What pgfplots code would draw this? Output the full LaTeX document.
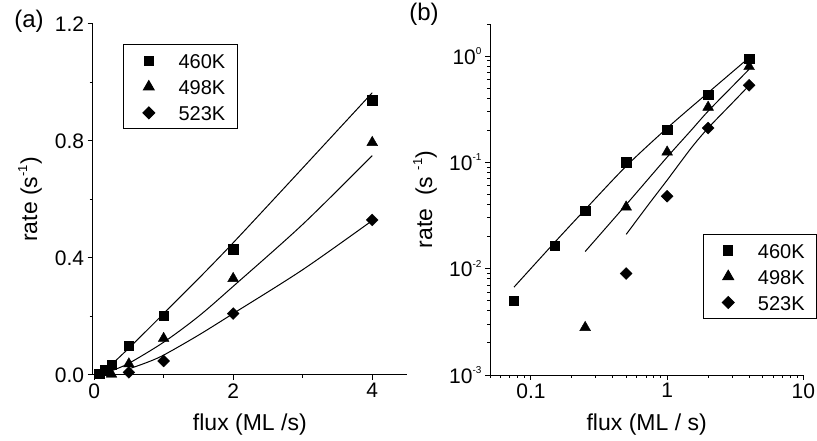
\documentclass[border=0pt]{standalone}
\usepackage{fontspec}
\setmainfont{Liberation Sans}
\usepackage{pgfplots}
\pgfplotsset{compat=1.18}
\newcommand{\sups}[1]{\raisebox{9.5pt}{\fontsize{10}{10}\selectfont #1}}
\newcommand{\supl}[1]{\raisebox{10pt}{\fontsize{13}{13}\selectfont #1}}
\begin{document}
\begin{tikzpicture}[x=1pt,y=1pt]
\path[use as bounding box] (0,0) rectangle (817,441);
\pgfplotsset{
 myaxis/.style={
  scale only axis, axis lines*=left, tick align=outside,
  axis line style={line width=1pt, black},
  major tick length=5pt, minor tick length=3pt,
  tick style={black, line width=1pt},
  tick label style={font=\fontsize{21}{25}\selectfont},
  label style={font=\fontsize{23}{27}\selectfont},
  legend style={draw=black, line width=1pt, fill=white, inner xsep=12pt, inner ysep=3pt,
    font=\fontsize{20}{24}\selectfont, row sep=0pt, column sep=0pt,
    nodes={inner sep=0pt, text height=15pt, text depth=0pt}},
  legend cell align=left,
  legend image code/.code={\path[draw=none,fill=none] (0pt,-13pt) rectangle (42.7pt,13pt); \draw[##1] plot coordinates {(13pt,0pt)};},
 },
 sq/.style={only marks, mark=square*, mark size=4.7pt, black},
 tri/.style={only marks, mark=triangle*, mark size=6.2pt, black},
 dia/.style={only marks, mark=square*, mark size=4.2pt, mark options={rotate=45}, black},
 fit/.style={black, line width=1pt, smooth, no marks, forget plot},
}
\begin{axis}[myaxis,
  at={(92.7pt,66pt)}, anchor=south west,
  width=314.3pt, height=351pt,
  xmin=-0.02, xmax=4.5, ymin=0, ymax=1.2,
  xtick={0,2,4}, xticklabels={0,2,4}, minor xtick={1,3},
  ytick={0,0.4,0.8,1.2}, yticklabels={0.0,0.4,0.8,1.2}, minor ytick={0.2,0.6,1.0},
  xlabel={flux (ML /s)}, ylabel={rate (s\supl{-1})},
  xlabel style={at={(axis description cs:0.5,-0.1425)}, anchor=center},
  ylabel style={at={(axis description cs:-0.1995,0.5)}, anchor=center},
  legend style={at={(axis description cs:0.0974,0.942)}, anchor=north west},
]
\addplot[fit] coordinates {(0.075,0.0067) (0.15,0.0178) (0.25,0.036) (0.5,0.092) (1,0.21) (2,0.452) (4,0.965)};
\addplot[fit] coordinates {(0.25,0.0145) (0.5,0.04) (1,0.112) (1.5,0.2) (2,0.303) (3,0.515) (4,0.75)};
\addplot[fit] coordinates {(0.5,0.021) (0.75,0.042) (1,0.068) (1.5,0.136) (2,0.21) (3,0.36) (4,0.528)};
\addplot[sq] coordinates {(0.075,0.005) (0.15,0.0165) (0.25,0.035) (0.5,0.1) (1,0.203) (2,0.43) (4,0.94)};
\addplot[tri] coordinates {(0.25,0.0028) (0.5,0.038) (1,0.125) (2,0.33) (4,0.795)};
\addplot[dia] coordinates {(0.5,0.009) (1,0.048) (2,0.21) (4,0.53)};
\legend{460K,498K,523K}
\end{axis}
\begin{axis}[myaxis,
  at={(490pt,66pt)}, anchor=south west,
  width=313.3pt, height=351pt,
  xmode=log, ymode=log,
  xmin=0.05, xmax=10, ymin=0.001, ymax=2,
  xtick={0.1,1,10}, xticklabels={0.1,1,10},
  minor xtick={0.05,0.06,0.07,0.08,0.09,0.2,0.3,0.4,0.5,0.6,0.7,0.8,0.9,2,3,4,5,6,7,8,9},
  ytick={0.001,0.01,0.1,1}, yticklabels={10\sups{-3},10\sups{-2},10\sups{-1},10\sups{0}},
  minor ytick={0.002,0.003,0.004,0.005,0.006,0.007,0.008,0.009,0.02,0.03,0.04,0.05,0.06,0.07,0.08,0.09,0.2,0.3,0.4,0.5,0.6,0.7,0.8,0.9,2},
  xlabel={flux (ML / s)}, ylabel={rate\ \ (s\ \supl{-1})},
  xlabel style={at={(axis description cs:0.5,-0.1425)}, anchor=center},
  ylabel style={at={(axis description cs:-0.2075,0.5)}, anchor=center},
  legend style={at={(axis description cs:0.679,0.4017)}, anchor=north west},
]
\addplot[fit] coordinates {(0.075,0.0067) (0.15,0.0178) (0.25,0.036) (0.5,0.092) (1,0.21) (2,0.452) (4,0.965)};
\addplot[fit] coordinates {(0.25,0.0145) (0.5,0.04) (1,0.112) (1.5,0.2) (2,0.303) (3,0.515) (4,0.75)};
\addplot[fit] coordinates {(0.5,0.021) (0.75,0.042) (1,0.068) (1.5,0.136) (2,0.21) (3,0.36) (4,0.528)};
\addplot[sq] coordinates {(0.075,0.005) (0.15,0.0165) (0.25,0.035) (0.5,0.1) (1,0.203) (2,0.43) (4,0.94)};
\addplot[tri] coordinates {(0.25,0.0028) (0.5,0.038) (1,0.125) (2,0.33) (4,0.795)};
\addplot[dia] coordinates {(0.5,0.009) (1,0.048) (2,0.21) (4,0.53)};
\legend{460K,498K,523K}
\end{axis}
\node[font=\fontsize{24}{28}\selectfont] at (29,419.5) {(a)};
\node[font=\fontsize{24}{28}\selectfont] at (424,427) {(b)};
\end{tikzpicture}
\end{document}
